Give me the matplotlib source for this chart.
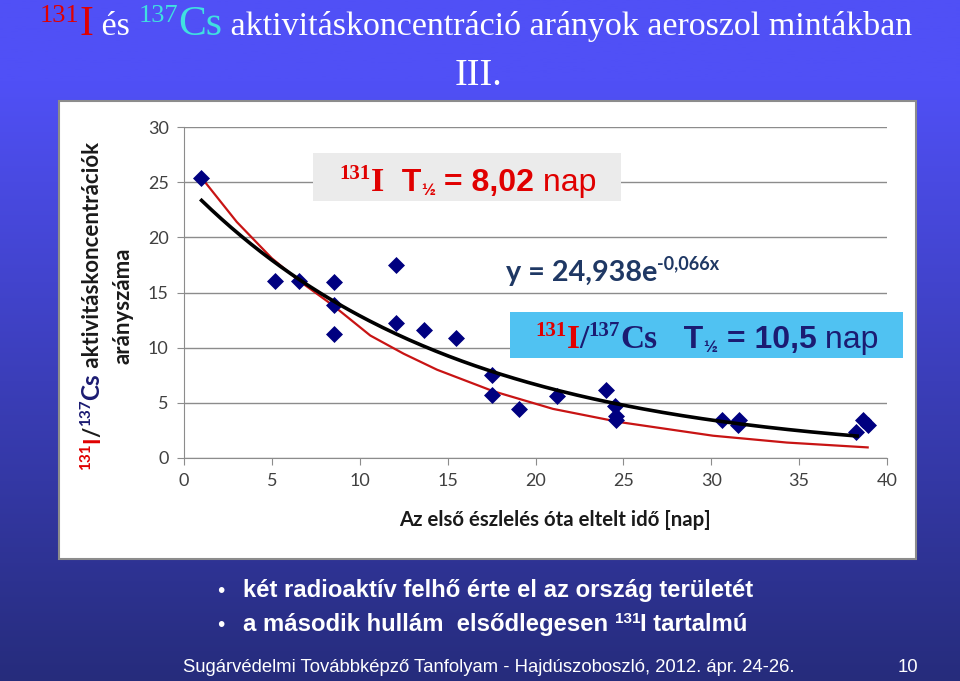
import numpy as np
import matplotlib
matplotlib.use("Agg")
import matplotlib.pyplot as plt
from matplotlib.patches import Rectangle
from matplotlib.transforms import IdentityTransform

# measured 131I/137Cs ratios in aerosol samples
days = [0.97, 5.2, 6.55, 8.55, 8.55, 8.55, 12.05, 12.05, 13.65, 15.5, 17.5, 17.5,
        19.05, 21.2, 24.0, 24.5, 24.6, 24.6, 30.6, 31.6, 31.5, 38.25, 38.65, 38.9]
ratio = [25.4, 16.05, 16.05, 15.95, 13.85, 11.25, 17.5, 12.25, 11.6, 10.85, 7.5, 5.7,
         4.45, 5.6, 6.15, 4.75, 3.85, 3.4, 3.45, 3.45, 3.0, 2.4, 3.45, 3.0]

# exponential trendline shown on the chart: y = 24,938 e^(-0,066x)
fit_a = 24.938
fit_b = -0.066
fit_start, fit_end = 1.0, 38.3

# red curve (131I physical decay, T1/2 = 8,02 nap)
decay_x = [1.0, 3.0, 5.0, 6.6, 8.5, 10.6, 12.5, 14.4, 17.6, 21.0, 24.8, 30.1, 34.3, 38.9]
decay_y = [25.4, 21.4, 18.1, 16.0, 13.8, 11.1, 9.45, 8.0, 6.05, 4.45, 3.25, 2.02, 1.4, 0.96]

xticks = [0, 5, 10, 15, 20, 25, 30, 35, 40]
yticks = [0, 5, 10, 15, 20, 25, 30]

W, H = 960, 681
PX = IdentityTransform()

RED = "#E00000"
NAVY = "#1B1B72"
CYAN = "#40E0E0"
EQ = "#1F3864"

SERIF = {"family": "Liberation Serif"}
SANS = {"family": "Liberation Sans"}
CAL = {"family": "Lato"}
B = {"fontweight": "bold"}

fig = plt.figure(figsize=(W / 100, H / 100), dpi=100)

# slide background gradient
bg = fig.add_axes([0, 0, 1, 1], zorder=-10)
t = np.clip((np.linspace(0, 1, 300) - 0.12) / 0.88, 0, 1)
top = np.array([80, 80, 246]) / 255
bot = np.array([38, 44, 124]) / 255
grad = top[None, :] * (1 - t[:, None]) + bot[None, :] * t[:, None]
bg.imshow(grad[:, None, :], aspect="auto", extent=[0, 1, 0, 1])
bg.set_axis_off()

# white chart panel
fig.add_artist(Rectangle((59, H - 559), 857, 458, transform=PX, facecolor="white",
                         edgecolor="#8c8c8c", lw=1.5, zorder=-5))

ax = fig.add_axes([184 / W, 1 - 458 / H, 703 / W, 331 / H])
ax.set_facecolor("none")
ax.scatter(days, ratio, marker="D", s=75, color="#000080", zorder=3, linewidths=0)
fx = np.linspace(fit_start, fit_end, 200)
ax.plot(fx, fit_a * np.exp(fit_b * fx), color="black", lw=2.6, zorder=4)
ax.plot(decay_x, decay_y, color="#C81414", lw=1.6, zorder=2)

ax.set_xlim(0, 40)
ax.set_ylim(0, 30)
ax.set_xticks(xticks)
ax.set_yticks(yticks)
ax.grid(axis="y", color="#8c8c8c", lw=1)
ax.set_axisbelow(True)
for s in ["top", "right"]:
    ax.spines[s].set_visible(False)
for s in ["left", "bottom"]:
    ax.spines[s].set_color("#8c8c8c")
ax.tick_params(direction="out", length=5, color="#8c8c8c", labelcolor="#404040",
               labelsize=13, pad=6)
for lab in ax.get_xticklabels() + ax.get_yticklabels():
    lab.set_family("Lato")

fig.text(555 / W, 1 - 520 / H, "Az első észlelés óta eltelt idő [nap]", ha="center",
         va="center", fontsize=14.7, fontweight="bold", color="#1a1a1a", family="Lato")

renderer = fig.canvas.get_renderer()


def width(s, size, kw):
    a = fig.text(0, 0, "|" + s + "|", fontsize=size, **kw)
    b = fig.text(0, 0, "||", fontsize=size, **kw)
    w = a.get_window_extent(renderer).width - b.get_window_extent(renderer).width
    a.remove()
    b.remove()
    return w


def rich(x, y, parts, rot=0, center=False):
    # parts: (text, colour, size, rise in px, font kwargs)
    ws = [width(p[0], p[2], p[4]) for p in parts]
    pos = -sum(ws) / 2 if center else 0
    for (s, c, size, rise, kw), w in zip(parts, ws):
        if rot:
            fig.text(x - rise, H - y + pos, s, color=c, fontsize=size, rotation=90,
                     rotation_mode="anchor", ha="left", va="baseline", transform=PX, **kw)
        else:
            fig.text(x + pos, H - y + rise, s, color=c, fontsize=size, ha="left",
                     va="baseline", transform=PX, **kw)
        pos += w


# y axis label in two rotated lines
rich(99, 470, [("131", RED, 11, 9, {**CAL, **B}), ("I", RED, 16, 0, {**CAL, **B}),
               ("/", "#1a1a1a", 16, 0, {**CAL, **B}), ("137", NAVY, 11, 9, {**CAL, **B}),
               ("Cs", NAVY, 17.5, 0, {**CAL, **B}),
               (" aktivitáskoncentrációk", "#1a1a1a", 16, 0, {**CAL, **B})], rot=90)
rich(129, 306, [("arányszáma", "#1a1a1a", 16, 0, {**CAL, **B})], rot=90, center=True)

# slide title
rich(476, 35, [("131", RED, 19, 13, SERIF), ("I", RED, 30, 0, SERIF),
               (" és ", "white", 24.5, 0, SERIF), ("137", CYAN, 19, 13, SERIF),
               ("Cs", CYAN, 30, 0, SERIF),
               (" aktivitáskoncentráció arányok aeroszol mintákban", "white", 24.5, 0, SERIF)],
     center=True)
rich(478, 85, [("III.", "white", 27.5, 0, SERIF)], center=True)

# boxes with half-lives
fig.add_artist(Rectangle((313, H - 201), 308, 48, transform=PX, facecolor="#EBEBEB",
                         edgecolor="none", zorder=1))
rich(468, 191, [("131", RED, 15, 12, {**SERIF, **B}), ("I", RED, 24.5, 0, {**SERIF, **B}),
                ("  T", RED, 23, 0, {**SANS, **B}), ("½", RED, 12, -4, {**SANS, **B}),
                (" = 8,02", RED, 23, 0, {**SANS, **B}), (" nap", RED, 23, 0, SANS)],
     center=True)

fig.add_artist(Rectangle((510, H - 358), 393, 46, transform=PX, facecolor="#50C2F2",
                         edgecolor="none", zorder=1))
rich(707, 348, [("131", RED, 15, 12, {**SERIF, **B}), ("I", RED, 24, 0, {**SERIF, **B}),
                ("/", NAVY, 24, 0, {**SERIF, **B}), ("137", NAVY, 15, 12, {**SERIF, **B}),
                ("Cs", NAVY, 24, 0, {**SERIF, **B}), ("   T", NAVY, 23, 0, {**SANS, **B}),
                ("½", NAVY, 12, -4, {**SANS, **B}), (" = 10,5", NAVY, 23, 0, {**SANS, **B}),
                (" nap", NAVY, 23, 0, SANS)], center=True)

# fitted equation
rich(506, 281, [("y = 24,938e", EQ, 20.7, 0, {**CAL, **B}),
                ("-0,066x", EQ, 13, 12, {**CAL, **B})])

# bullets
NB = {"family": "Liberation Sans", "fontweight": "bold"}
fig.text(217, H - 597, "•", color="white", fontsize=15, transform=PX, ha="left",
         va="baseline", family="Liberation Sans")
fig.text(217, H - 631, "•", color="white", fontsize=15, transform=PX, ha="left",
         va="baseline", family="Liberation Sans")
rich(243, 597, [("két radioaktív felhő érte el az ország területét", "white", 17.2, 0, NB)])
rich(243, 631, [("a második hullám  elsődlegesen ", "white", 17.2, 0, NB),
                ("131", "white", 11, 8, NB), ("I tartalmú", "white", 17.2, 0, NB)])

# footer
fig.text(183, H - 672, "Sugárvédelmi Továbbképző Tanfolyam - Hajdúszoboszló, 2012. ápr. 24-26.",
         color="white", fontsize=13.3, transform=PX, ha="left", va="baseline",
         family="Liberation Sans")
fig.text(918, H - 672, "10", color="white", fontsize=13.3, transform=PX, ha="right",
         va="baseline", family="Liberation Sans")

fig.savefig("out.png", dpi=100)
